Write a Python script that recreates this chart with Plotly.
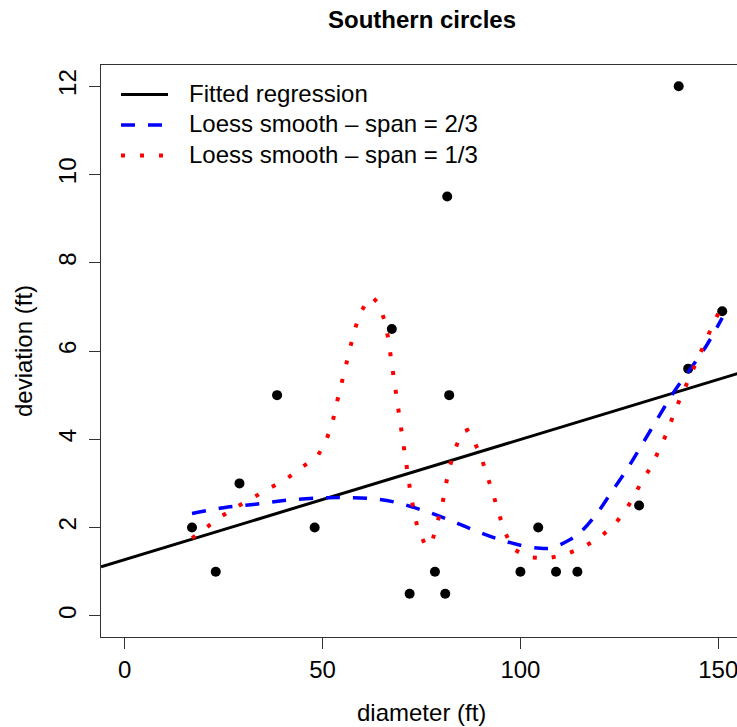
import numpy as np
import plotly.graph_objects as go

# --- data ---
diameter = [17, 23, 29, 38.5, 48, 67.5, 72, 78.4, 81, 81.5, 82, 100, 104.5, 109, 114.4, 130, 140, 142.4, 151]
deviation = [2, 1, 3, 5, 2, 6.5, 0.5, 1, 0.5, 9.5, 5, 1, 2, 1, 1, 2.5, 12, 5.6, 6.9]

loess23_x = [17, 25, 33, 41, 49, 55, 62, 68, 75, 81.5, 88, 94, 100, 105, 108, 112, 115, 119, 123, 127, 131, 135, 139, 143, 147, 151]
loess23_y = [2.32, 2.45, 2.53, 2.62, 2.67, 2.68, 2.66, 2.58, 2.40, 2.19, 1.95, 1.75, 1.60, 1.53, 1.54, 1.70, 1.88, 2.28, 2.80, 3.33, 3.92, 4.52, 5.10, 5.60, 6.12, 6.75]

loess13_x = [17.0, 20.8, 24.7, 28.7, 32.7, 37.0, 41.0, 44.8, 48.7, 50.9, 52.5, 53.5, 54.6, 55.8, 56.9, 58.0, 59.5, 61.6,
             62.6, 64.3, 65.8, 66.7, 67.3, 68.0, 68.6, 69.2, 70.0, 70.7, 71.3, 72.1, 72.9, 73.9, 75.7, 76.7, 77.8,
             79.1, 80.3, 81.1, 82.1, 83.5, 85.3, 86.6, 88.6, 90.4, 91.9, 93.3, 94.6, 96.1, 98.2, 102.1, 106.8,
             111.4, 115.8, 119.8, 123.5, 126.5, 128.8, 131.0, 133.1, 135.2, 137.1, 139.1, 141.0, 142.9, 144.9,
             146.8, 148.7, 150.8]
loess13_y = [1.76, 2.02, 2.27, 2.49, 2.70, 2.90, 3.11, 3.37, 3.61, 3.97, 4.38, 4.79, 5.20, 5.61, 6.03, 6.45, 6.85, 7.18,
             7.22, 7.06, 6.65, 6.23, 5.82, 5.39, 4.97, 4.55, 4.13, 3.70, 3.28, 2.86, 2.45, 2.03, 1.65, 1.57, 1.72,
             2.12, 2.54, 2.95, 3.37, 3.78, 4.17, 4.21, 3.90, 3.51, 3.11, 2.70, 2.30, 1.89, 1.51, 1.33, 1.30,
             1.39, 1.55, 1.76, 2.04, 2.37, 2.73, 3.10, 3.38, 3.77, 4.16, 4.66, 5.05, 5.43, 5.82,
             6.21, 6.61, 6.99]

x_ticks = [0, 50, 100, 150]
y_ticks = [0, 2, 4, 6, 8, 10, 12]
x_range = [-6, 156]
y_range = [-0.48, 12.48]

title_text = "Southern circles"
x_title = "diameter (ft)"
y_title = "deviation (ft)"
legend_labels = ["Fitted regression", "Loess smooth \u2013 span = 2/3", "Loess smooth \u2013 span = 1/3"]

# least-squares fit
slope, intercept = np.polyfit(diameter, deviation, 1)
fit_x = np.array(x_range)
fit_y = intercept + slope * fit_x

FONT = "Liberation Sans, Arial, Helvetica, sans-serif"
FS = 24
W, H = 745, 727
ML, MR, MT, MB = 101, 3, 65, 90
PW, PH = W - ML - MR, H - MT - MB


def px_x(p):
    return (p - ML) / PW


def px_y(p):
    return 1 - (p - MT) / PH


styles = [dict(color="black", width=3),
          dict(color="#0000FF", width=3.5, dash="14px,13px"),
          dict(color="#FF0000", width=4, dash="4px,15px")]

fig = go.Figure()
fig.add_trace(go.Scatter(x=diameter, y=deviation, mode="markers",
                         marker=dict(color="black", size=10), showlegend=False))
fig.add_trace(go.Scatter(x=fit_x, y=fit_y, mode="lines", name=legend_labels[0],
                         line=styles[0], showlegend=False))
fig.add_trace(go.Scatter(x=loess23_x, y=loess23_y, mode="lines", name=legend_labels[1],
                         line=styles[1], line_shape="spline", showlegend=False))
fig.add_trace(go.Scatter(x=loess13_x, y=loess13_y, mode="lines", name=legend_labels[2],
                         line=styles[2], showlegend=False))

axis_common = dict(showgrid=False, zeroline=False, ticks="outside", ticklen=11, tickwidth=1,
                   tickcolor="#333333", linecolor="#333333", linewidth=1, showline=True, mirror=True,
                   tickfont=dict(family=FONT, size=FS, color="black"))

fig.update_xaxes(range=x_range, tickvals=x_ticks, **axis_common)
fig.update_yaxes(range=y_range, tickvals=y_ticks, tickangle=-90, ticklabelstandoff=3, **axis_common)

annotations = [
    dict(text="<b>" + title_text + "</b>", x=px_x(421.5), y=px_y(20), xanchor="center", yanchor="middle"),
    dict(text=x_title, x=px_x(421.5), y=px_y(712), xanchor="center", yanchor="middle"),
    dict(text=y_title, x=px_x(23), y=0.5, xanchor="center", yanchor="middle", textangle=-90),
]
shapes = []
row_y = [94.5, 125, 155.5]
for lab, st, ry in zip(legend_labels, styles, row_y):
    shapes.append(dict(type="line", xref="paper", yref="paper", x0=px_x(121), x1=px_x(168),
                       y0=px_y(ry), y1=px_y(ry), line=st))
    annotations.append(dict(text=lab, x=px_x(187), y=px_y(ry - 1), xanchor="left", yanchor="middle"))

for a in annotations:
    a.update(xref="paper", yref="paper", showarrow=False,
             font=dict(family=FONT, size=FS, color="black"))

fig.update_layout(
    width=W, height=H,
    margin=dict(l=ML, r=MR, t=MT, b=MB),
    plot_bgcolor="white", paper_bgcolor="white",
    font=dict(family=FONT, size=FS, color="black"),
    showlegend=False,
    annotations=annotations,
    shapes=shapes,
)

page_fix = ("document.body.style.margin='0';"
            "document.body.style.overflow='hidden';"
            "document.documentElement.style.overflow='hidden';")
fig.write_html("out.html", post_script=page_fix, config={"displayModeBar": False})
